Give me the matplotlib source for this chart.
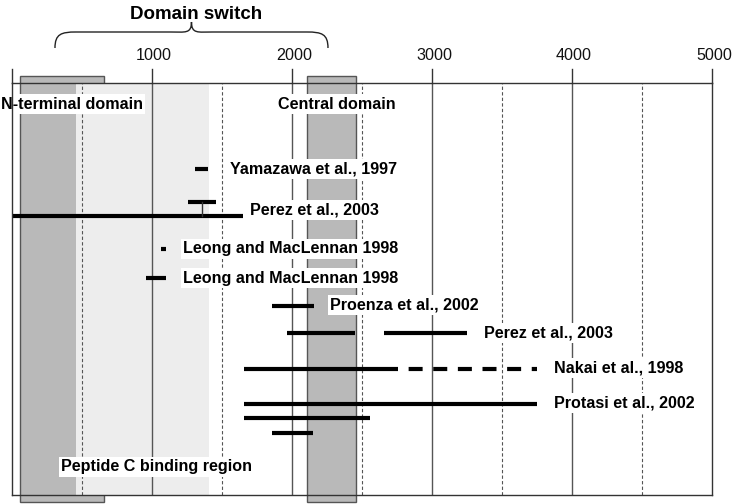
import matplotlib
matplotlib.use("Agg")
import matplotlib.pyplot as plt
from matplotlib.path import Path
from matplotlib.patches import PathPatch, Rectangle

plt.rcParams['font.family'] = ['Liberation Sans', 'DejaVu Sans']

# ---- data ----
tick_values = [0, 1000, 2000, 3000, 4000, 5000]
tick_labels = ["", "1000", "2000", "3000", "4000", "5000"]
dashed_grid = [500, 1500, 2500, 3500, 4500]

nterm_domain = (57, 657)
central_domain = (2107, 2457)
peptide_region = (460, 1410)
domain_switch = (307, 2257)

seg_start = [1307, 1257, 0, 1064, 957, 1857, 1964, 2657, 1657, 1657, 1657, 1857]
seg_end = [1400, 1457, 1650, 1100, 1100, 2157, 2450, 3250, 2757, 3750, 2557, 2150]
seg_row = [86, 119, 133, 166, 195, 223, 250, 250, 286, 321, 335, 350]

dashed_start = [2757]
dashed_end = [3750]
dashed_row = [286]

stem_x = [1357]
stem_top = [119]
stem_bottom = [133]

ref_labels = ["Yamazawa et al., 1997", "Perez et al., 2003",
              "Leong and MacLennan 1998", "Leong and MacLennan 1998",
              "Proenza et al., 2002", "Perez et al., 2003",
              "Nakai et al., 1998", "Protasi et al., 2002"]
ref_label_x = [1557, 1700, 1221, 1221, 2271, 3371, 3871, 3871]
ref_label_row = [86, 127, 166, 195, 222, 250, 285, 320]

region_labels = ["N-terminal domain", "Central domain", "Peptide C binding region"]
region_label_x = [-80, 1900, 350]
region_label_row = [21, 21, 384]

FS = 11.6

# ---- figure ----
fig = plt.figure(figsize=(7.32, 5.04), dpi=100)
ax = fig.add_axes([12 / 732, 1 - 495 / 504, 700 / 732, 412 / 504])
ax.set_xlim(0, 5000)
ax.set_ylim(412, 0)
ax.set_xticks([])
ax.set_yticks([])
for s in ax.spines.values():
    s.set_color('#333333')
    s.set_linewidth(1.0)
    s.set_zorder(6)

# dark boxes extending beyond axes
for (a, b) in [nterm_domain, central_domain]:
    ax.add_patch(Rectangle((a, -7), b - a, 426, facecolor='#b9b9b9',
                           edgecolor='#555555', lw=1.0, clip_on=False, zorder=1))
# light gray region (covers the overlapping part of the N-terminal box inside axes)
ax.add_patch(Rectangle((peptide_region[0], 0), peptide_region[1] - peptide_region[0], 412,
                       facecolor='#ededed', lw=0, zorder=1.5))

# grid lines
for v in tick_values[1:-1]:
    ax.axvline(v, color='#555555', lw=1.0, zorder=2)
for v in dashed_grid:
    ax.axvline(v, color='#555555', lw=0.8, ls=(0, (3, 2)), zorder=2)

# ticks above axes
for v, lab in zip(tick_values, tick_labels):
    ax.plot([v, v], [-14, 0], color='#333333', lw=1.0, clip_on=False, zorder=3)
    if lab:
        ax.text(v + 15, -28, lab, ha='center', va='center', fontsize=FS, color='#111111')

# segments
for a, b, r in zip(seg_start, seg_end, seg_row):
    ax.plot([a, b], [r, r], color='black', lw=3, solid_capstyle='butt', zorder=4)
for a, b, r in zip(dashed_start, dashed_end, dashed_row):
    ax.plot([a, b], [r, r], color='black', lw=3, ls=(3.36, (3.36, 2.55)),
            dash_capstyle='butt', zorder=4)
for x, t, bt in zip(stem_x, stem_top, stem_bottom):
    ax.plot([x, x], [t, bt], color='#333333', lw=1.0, zorder=4)

bbox = dict(facecolor='white', edgecolor='none', pad=1.5)
for lab, x, r in zip(ref_labels, ref_label_x, ref_label_row):
    ax.text(x, r, lab, ha='left', va='center', fontsize=FS, fontweight='bold',
            bbox=bbox, zorder=5)
for lab, x, r in zip(region_labels, region_label_x, region_label_row):
    ax.text(x, r, lab, ha='left', va='center', fontsize=FS, fontweight='bold',
            bbox=bbox, zorder=5)

# brace for domain switch
L, R = domain_switch
M = (L + R) / 2
yb, ym, yt = -35, -51, -61
w = 150
verts = [(L, yb), (L, ym + 2), (L + w * 0.3, ym), (L + w, ym),
         (M - w, ym), (M - w, ym), (M - w, ym),
         (M - w * 0.3, ym), (M, ym + 2), (M, yt),
         (M, ym + 2), (M + w * 0.3, ym), (M + w, ym),
         (R - w, ym), (R - w, ym), (R - w, ym),
         (R - w * 0.3, ym), (R, ym + 2), (R, yb)]
codes = [Path.MOVETO] + [Path.CURVE4] * 18
ax.add_patch(PathPatch(Path(verts, codes), facecolor='none', edgecolor='#222222',
                       lw=1.0, clip_on=False))
ax.text(M + 30, -69, "Domain switch", ha='center', va='center', fontsize=13.5,
        fontweight='bold')

fig.savefig("out.png", dpi=100)
